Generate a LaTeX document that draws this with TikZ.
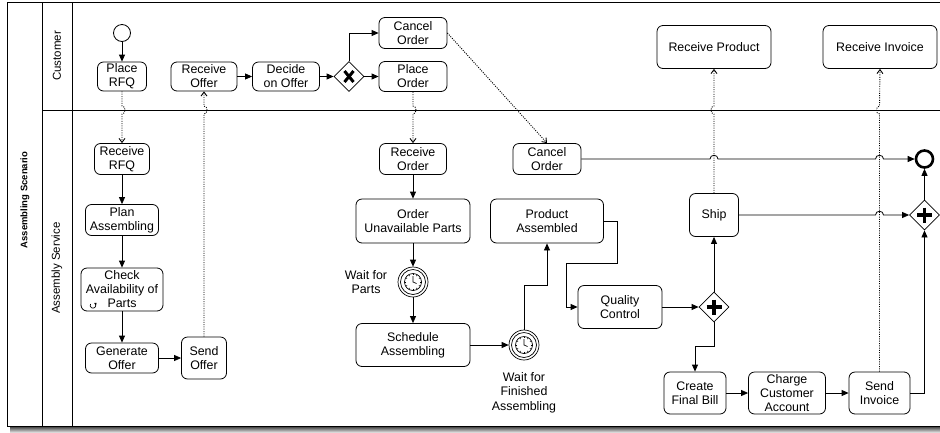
\documentclass[tikz,border=0pt]{standalone}
\usepackage{fontspec}
\setmainfont{Liberation Sans}
\usetikzlibrary{arrows.meta,calc,shapes.geometric}
\begin{document}
\begin{tikzpicture}[x=1pt,y=-1pt,
  task/.style={draw, rounded corners=6pt, line width=0.8pt, align=center, inner sep=0pt,
    font=\fontsize{12.4}{14}\selectfont},
  sz/.style 2 args={minimum width=#1pt, minimum height=#2pt},
  gate/.style={draw, diamond, line width=0.8pt, minimum width=30pt, minimum height=30pt, inner sep=0pt},
  timer/.style={draw, circle, line width=0.7pt, minimum size=30pt, inner sep=0pt},
  lbl/.style={align=center, inner sep=0pt, font=\fontsize{12.4}{14.5}\selectfont},
  lane/.style={rotate=90, inner sep=0pt, font=\fontsize{11.5}{13}\selectfont},
  flow/.style={line width=0.8pt, -{Triangle[length=7pt,width=6pt]}},
  msg/.style={line width=0.9pt, dash pattern=on 1pt off 1.3pt, -{Straight Barb[length=4pt,width=6pt]}},
  xmark/.style={line width=3pt}
]
\useasboundingbox (0,0) rectangle (940,432);
% frame and shadow
\shade[top color=black!75, bottom color=black!15] (10,426.5) rectangle (940,432);
\draw[line width=0.8pt] (940,2) -- (7,2) -- (7,426) -- (940,426);
\draw[line width=0.8pt] (42,2) -- (42,426);
\draw[line width=0.8pt] (72,2) -- (72,426);
\draw[line width=0.8pt] (42,110.5) -- (940,110.5);
\node[lane, font=\bfseries\fontsize{9.5}{11}\selectfont] (title) at (25,200) {Assembling Scenario};
\node[lane] (laneC) at (57,56) {Customer};
\node[lane] (laneS) at (57,268) {Assembly Service};

% Customer lane
\node[draw, circle, line width=0.8pt, minimum size=17pt, inner sep=0pt] (start) at (122,33) {};
\node[task, sz={49}{29}] (placeRFQ) at (122,76.5) {Place\\RFQ};
\node[task, sz={66}{29}] (recvOffer) at (204,76.5) {Receive\\Offer};
\node[task, sz={67}{29}] (decide) at (286,76.5) {Decide\\on Offer};
\node[gate] (xor) at (349,76.5) {};
\node[task, sz={68}{31}] (cancelC) at (413,33) {Cancel\\Order};
\node[task, sz={68}{30}] (placeOrder) at (413,76.5) {Place\\Order};
\node[task, sz={114}{43}] (recvProd) at (714,47) {Receive Product};
\node[task, sz={114}{43}] (recvInv) at (880,47) {Receive Invoice};

% Service lane
\node[task, sz={55}{31}] (recvRFQ) at (122,159) {Receive\\RFQ};
\node[task, sz={73}{31}] (plan) at (122,220) {Plan\\Assembling};
\node[task, sz={82}{43}] (check) at (122,289.5) {Check\\Availability of\\Parts};
\node[task, sz={73}{30}] (genOffer) at (122,358) {Generate\\Offer};
\node[task, sz={45}{42}] (sendOffer) at (204,358) {Send\\Offer};
\node[task, sz={67}{31}] (recvOrder) at (413,159) {Receive\\Order};
\node[task, sz={68}{31}] (cancelS) at (547,159) {Cancel\\Order};
\node[task, sz={114}{44}] (orderParts) at (413,221) {Order\\Unavailable Parts};
\node[task, sz={113}{44}] (prodAsm) at (547,221) {Product\\Assembled};
\node[timer] (timer1) at (413,282) {};
\node[lbl] (waitParts) at (366,282) {Wait for\\Parts};
\node[task, sz={114}{43}] (sched) at (413,345) {Schedule\\Assembling};
\node[timer] (timer2) at (524,345) {};
\node[lbl] (waitFin) at (524,392.5) {Wait for\\Finished\\Assembling};
\node[task, sz={84}{43}] (quality) at (620,307) {Quality\\Control};
\node[gate] (and1) at (714,307) {};
\node[task, sz={49}{43}] (ship) at (714,215) {Ship};
\node[task, sz={62}{42}] (final) at (695,393) {Create\\Final Bill};
\node[task, sz={77}{42}] (charge) at (787,393) {Charge\\Customer\\Account};
\node[task, sz={61}{42}] (sendInv) at (879.5,393) {Send\\Invoice};
\node[gate] (and2) at (924.5,215) {};
\node[draw, circle, line width=2.6pt, minimum size=17pt, inner sep=0pt] (end) at (924.5,159) {};

% gateway markers
\draw[xmark] ($(xor)+(-4.5,-5.5)$) -- ($(xor)+(4.5,5.5)$);
\draw[xmark] ($(xor)+(4.5,-5.5)$) -- ($(xor)+(-4.5,5.5)$);
\foreach \g in {and1,and2}{
  \draw[line width=3.5pt] ($(\g)+(-7.5,0)$) -- ($(\g)+(7.5,0)$);
  \draw[line width=3.5pt] ($(\g)+(0,-7.5)$) -- ($(\g)+(0,7.5)$);
}
% timer markers
\foreach \t in {timer1,timer2}{
  \draw[line width=0.7pt] (\t) circle[radius=12.5];
  \draw[line width=0.7pt] (\t) circle[radius=8.5];
  \foreach \a in {0,30,...,330}
    \draw[line width=0.5pt] ($(\t)+(\a:6.8)$) -- ($(\t)+(\a:8.5)$);
  \draw[line width=0.7pt] ($(\t)+(0,-6)$) -- (\t.center) -- ($(\t)+(3.5,1.5)$);
}
% loop marker
\draw[line width=0.7pt, -{Triangle[length=2pt,width=2.5pt]}] (90.5,304) arc[start angle=210, end angle=-60, radius=2.8];

% sequence flows
\draw[flow] (start) -- (placeRFQ);
\draw[flow] (recvOffer) -- (decide);
\draw[flow] (decide) -- (xor);
\draw[flow] (xor) -- (placeOrder);
\draw[flow] (xor.north) |- (cancelC.west);
\draw[flow] (recvRFQ) -- (plan);
\draw[flow] (plan) -- (check);
\draw[flow] (check) -- (genOffer);
\draw[flow] (genOffer) -- (sendOffer);
\draw[flow] (recvOrder) -- (orderParts);
\draw[flow] (orderParts) -- (timer1);
\draw[flow] (timer1) -- (sched);
\draw[flow] (sched) -- (timer2);
\draw[flow] (timer2.north) -- (524,285) -| (prodAsm.south);
\draw[flow] (prodAsm.east) -- (617,221) -- (617,263) -- (566,263) |- (quality.west);
\draw[flow] (quality) -- (and1);
\draw[flow] (and1) -- (ship);
\draw[flow] (and1.south) -- (714,346) -| (final.north);
\draw[flow] (final) -- (charge);
\draw[flow] (charge) -- (sendInv);
\draw[flow] (sendInv.east) -| (and2.south);
\draw[flow] (and2) -- (end);
\draw[flow] (cancelS.east) -- (710,159) .. controls (710,154) and (718,154) .. (718,159)
  -- (875.5,159) .. controls (875.5,154) and (883.5,154) .. (883.5,159) -- (end.west);
\draw[flow] (ship.east) -- (875.5,215) .. controls (875.5,210) and (883.5,210) .. (883.5,215) -- (and2.west);

% message flows
\draw[msg] (placeRFQ.south) -- (122,106) .. controls (126,106) and (126,114) .. (122,114) -- (recvRFQ.north);
\draw[msg] (sendOffer.north) -- (204,114) .. controls (208,114) and (208,106) .. (204,106) -- (recvOffer.south);
\draw[msg] (placeOrder.south) -- (413,106) .. controls (417,106) and (417,114) .. (413,114) -- (recvOrder.north);
\draw[msg] (cancelC.east) -- (cancelS.north);
\draw[msg] (ship.north) -- (714,114) .. controls (710,114) and (710,106) .. (714,106) -- (recvProd.south);
\draw[msg] (sendInv.north) -- (879.5,114) .. controls (875.5,114) and (875.5,106) .. (879.5,106) -- (recvInv.south);
\end{tikzpicture}
\end{document}
